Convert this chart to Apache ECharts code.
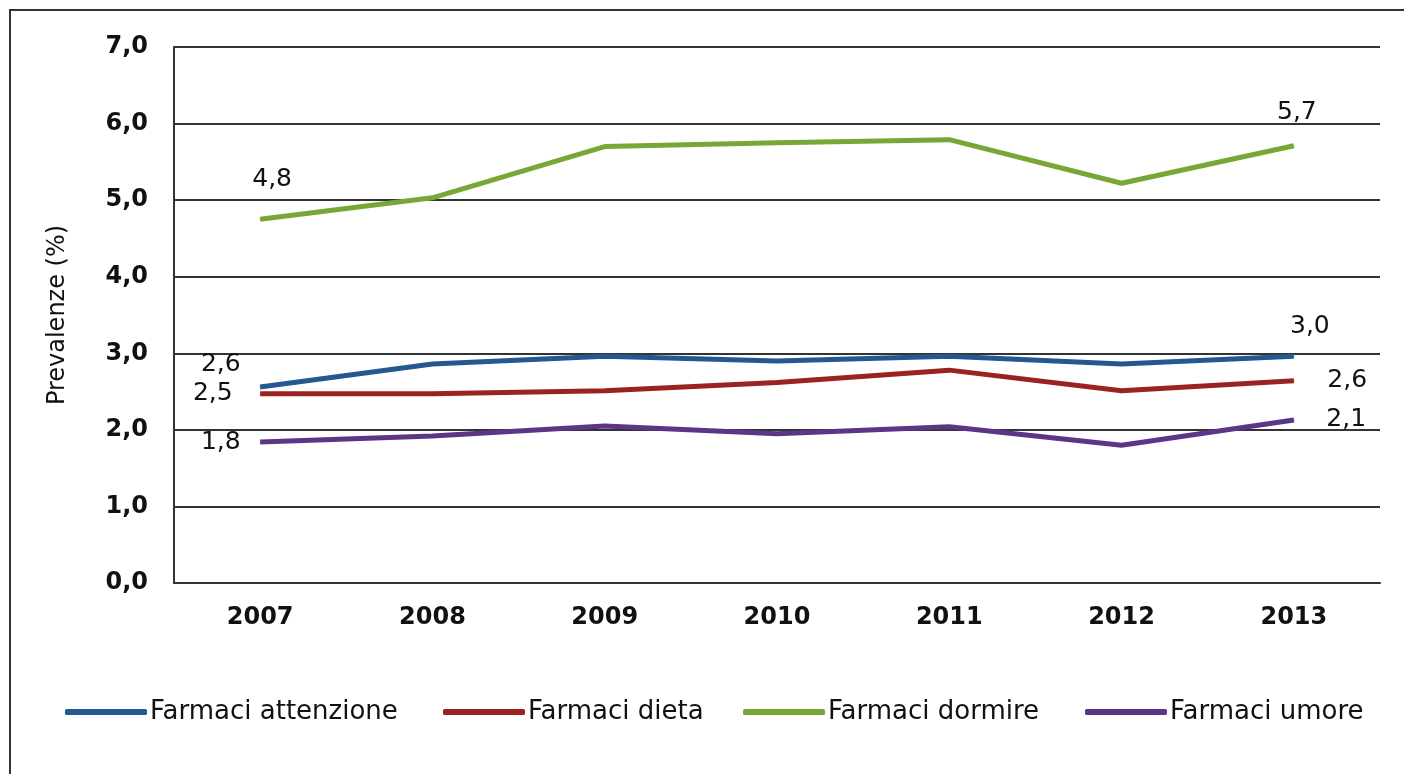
<!DOCTYPE html>
<html>
<head>
<meta charset="utf-8">
<script src="https://cdn.jsdelivr.net/npm/echarts@6/dist/echarts.min.js"></script>
<style>
  html, body { margin: 0; padding: 0; background: #fff; }
  #chart { width: 1404px; height: 774px; }
</style>
</head>
<body>
<div id="chart"></div>
<script>
// dati
const years = ['2007', '2008', '2009', '2010', '2011', '2012', '2013'];
const seriesNames = ['Farmaci attenzione', 'Farmaci dieta', 'Farmaci dormire', 'Farmaci umore'];
const attenzione = [2.56, 2.86, 2.96, 2.90, 2.96, 2.86, 2.96];
const dieta = [2.47, 2.47, 2.51, 2.62, 2.78, 2.51, 2.64];
const dormire = [4.75, 5.03, 5.70, 5.75, 5.79, 5.22, 5.71];
const umore = [1.84, 1.92, 2.05, 1.95, 2.04, 1.80, 2.13];
const yTicks = [0, 1, 2, 3, 4, 5, 6, 7];

const colors = ['#24598f', '#9a2222', '#78a737', '#5b3586'];
const FONT = 'DejaVu Sans';

// posizione etichette (prima / ultima)
const labelCfg = [
    [{ position: 'left', offset: [-14, -22] }, { position: 'top', offset: [16, -12] }],
    [{ position: 'left', offset: [-22, 0] }, { position: 'right', offset: [28, 0] }],
    [{ position: 'top', offset: [12, -22] }, { position: 'top', offset: [3, -15] }],
    [{ position: 'left', offset: [-14, 0] }, { position: 'right', offset: [27, 0] }]
];

function fmt(v) {
    return v.toFixed(1).replace('.', ',');
}

function buildData(values, cfg) {
    return values.map(function(v, i) {
        const item = { value: v };
        let c = null;
        if (i === 0) c = cfg[0];
        if (i === values.length - 1) c = cfg[1];
        if (c) {
            item.label = {
                show: true,
                position: c.position,
                offset: c.offset,
                distance: 5,
                formatter: function(p) { return fmt(p.value); },
                color: '#111',
                fontFamily: FONT,
                fontSize: 25
            };
        }
        return item;
    });
}

const allValues = [attenzione, dieta, dormire, umore];

const series = allValues.map(function(vals, k) {
    return {
        name: seriesNames[k],
        type: 'line',
        data: buildData(vals, labelCfg[k]),
        symbol: 'circle',
        symbolSize: 1,
        showSymbol: true,
        color: colors[k],
        lineStyle: { width: 5, color: colors[k] },
        itemStyle: { color: colors[k] },
        emphasis: { disabled: true },
        animation: false,
        z: 3
    };
});

const legendLeft = [60, 438, 738, 1080];
const legends = seriesNames.map(function(n, k) {
    return {
        data: [n],
        left: legendLeft[k],
        top: 694,
        icon: 'roundRect',
        itemWidth: 82,
        itemHeight: 6,
        itemGap: 4,
        selectedMode: false,
        textStyle: { fontFamily: FONT, fontSize: 26, color: '#111', padding: [0, 0, 0, -2] }
    };
});

const chart = echarts.init(document.getElementById('chart'));
chart.setOption({
    backgroundColor: '#fff',
    animation: false,
    graphic: [{
        type: 'rect',
        shape: { x: 10, y: 10, width: 1420, height: 820 },
        style: { fill: 'none', stroke: '#333', lineWidth: 2 },
        silent: true
    }],
    grid: { left: 174, right: 24, top: 47, bottom: 191, containLabel: false },
    legend: legends,
    xAxis: {
        type: 'category',
        data: years,
        boundaryGap: true,
        axisLine: { lineStyle: { color: '#333', width: 2 } },
        axisTick: { show: false },
        axisLabel: { fontFamily: FONT, fontSize: 24, fontWeight: 'bold', color: '#111', margin: 23 }
    },
    yAxis: {
        type: 'value',
        min: yTicks[0],
        max: yTicks[yTicks.length - 1],
        interval: 1,
        name: 'Prevalenze (%)',
        nameLocation: 'middle',
        nameGap: 104,
        nameRotate: 90,
        nameTextStyle: { fontFamily: FONT, fontSize: 24, color: '#111' },
        axisLine: { show: true, lineStyle: { color: '#333', width: 2 } },
        axisTick: { show: false },
        splitLine: { lineStyle: { color: '#333', width: 2 } },
        axisLabel: {
            fontFamily: FONT, fontSize: 24, fontWeight: 'bold', color: '#111', margin: 26,
            formatter: function(v) { return fmt(v); }
        }
    },
    series: series
});
</script>
</body>
</html>
